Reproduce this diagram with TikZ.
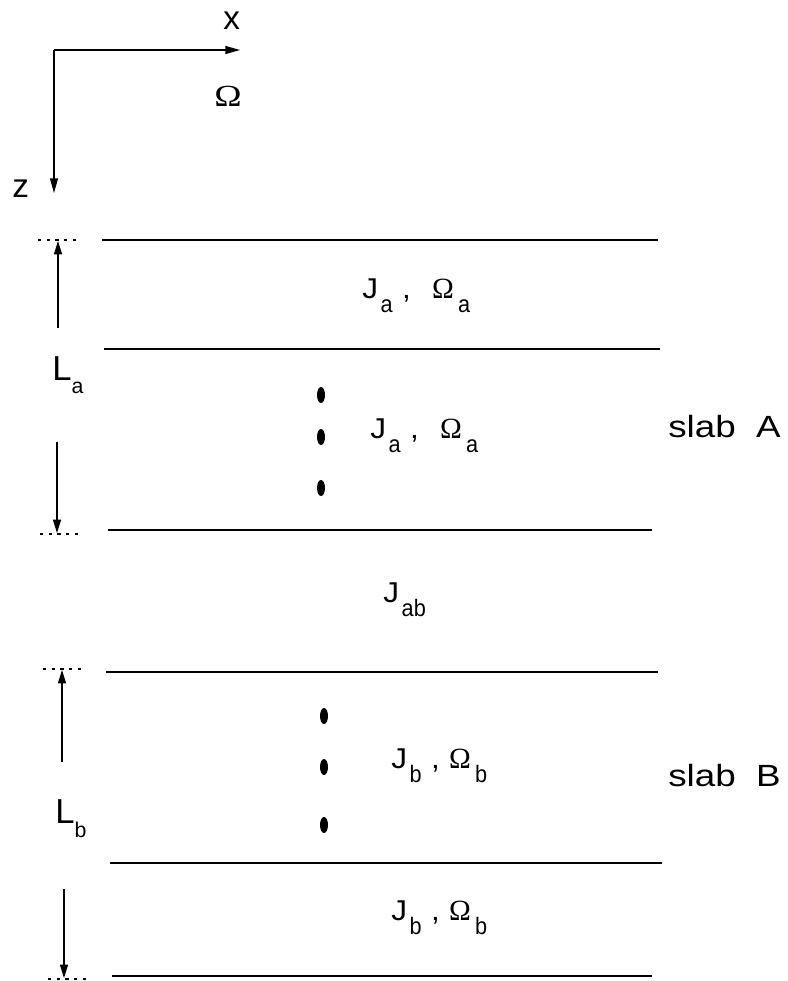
\documentclass[tikz,border=0pt]{standalone}
\usepackage{graphicx}
\usepackage{fontspec}
\setmainfont{Liberation Sans}
\newfontfamily\serifom{Liberation Serif}
\usetikzlibrary{arrows.meta,shapes.geometric}
\newcommand{\sx}[1]{\scalebox{1.1}[1]{#1}}
\newcommand{\lo}[1]{\raisebox{-10.5pt}{\fontsize{15.5}{15.5}\selectfont\scalebox{1.05}[1.15]{#1}}}
\newcommand{\omg}{{\fontsize{22}{22}\selectfont\serifom Ω}}
\begin{document}
\begin{tikzpicture}[x=0.75pt,y=-0.75pt,
  layer/.style={line width=1.4pt},
  axis/.style={line width=1pt,-{Triangle[length=11pt,width=6pt]}},
  dim/.style={line width=1pt,-{Triangle[length=10pt,width=6pt]}},
  stub/.style={line width=1.2pt,dash pattern=on 2.5pt off 4pt},
  dotn/.style={ellipse,fill=black,inner sep=0pt,minimum width=6pt,minimum height=12pt},
  txt/.style={anchor=base west,inner sep=0pt,font=\fontsize{21.5}{21.5}\selectfont},
  big/.style={anchor=base west,inner sep=0pt,font=\fontsize{23}{23}\selectfont}]
\useasboundingbox (0,0) rectangle (788,981);
% axes
\coordinate (O) at (54,50);
\coordinate (xe) at (240,50);
\coordinate (ze) at (54,193);
\draw[axis] (O) -- (xe);
\draw[axis] (O) -- (ze);
\node[anchor=base west,inner sep=0pt,font=\fontsize{25}{25}\selectfont] (xl) at (223,30) {x};
\node[anchor=base west,inner sep=0pt,font=\fontsize{25}{25}\selectfont] (zl) at (12,197) {z};
\node[anchor=base west,inner sep=0pt] (om) at (214,107) {\scalebox{1.2}[1]{\fontsize{23}{23}\selectfont\serifom Ω}};
% layer lines
\coordinate (l1a) at (102,240); \coordinate (l1b) at (658,240);
\coordinate (l2a) at (104,349); \coordinate (l2b) at (660,349);
\coordinate (l3a) at (108,530); \coordinate (l3b) at (652,530);
\coordinate (l4a) at (106,672); \coordinate (l4b) at (658,672);
\coordinate (l5a) at (110,863); \coordinate (l5b) at (662,863);
\coordinate (l6a) at (112,976); \coordinate (l6b) at (652,976);
\foreach \i in {1,...,6} {\draw[layer] (l\i a) -- (l\i b);}
% dotted stubs
\coordinate (s1a) at (38,240); \coordinate (s1b) at (78,240);
\coordinate (s2a) at (40,534); \coordinate (s2b) at (80,534);
\coordinate (s3a) at (43,669); \coordinate (s3b) at (83,669);
\coordinate (s4a) at (48,979); \coordinate (s4b) at (88,979);
\foreach \i in {1,...,4} {\draw[stub] (s\i a) -- (s\i b);}
% dimension arrows
\coordinate (a1t) at (58,328); \coordinate (a1h) at (58,241);
\coordinate (a2t) at (57,442); \coordinate (a2h) at (57,533);
\coordinate (b1t) at (62,762); \coordinate (b1h) at (62,670);
\coordinate (b2t) at (64,889); \coordinate (b2h) at (64,978);
\draw[dim] (a1t) -- (a1h);
\draw[dim] (a2t) -- (a2h);
\draw[dim] (b1t) -- (b1h);
\draw[dim] (b2t) -- (b2h);
\node[anchor=base west,inner sep=0pt,font=\fontsize{26}{26}\selectfont] (La) at (52,380) {L\raisebox{-10pt}{\fontsize{16}{16}\selectfont a}};
\node[anchor=base west,inner sep=0pt,font=\fontsize{26}{26}\selectfont] (Lb) at (55,823) {L\raisebox{-11pt}{\fontsize{16}{16}\selectfont b}};
% dots
\node[dotn] (da1) at (321,395) {};
\node[dotn] (da2) at (321,437) {};
\node[dotn] (da3) at (321,488) {};
\node[dotn] (db1) at (324,716) {};
\node[dotn] (db2) at (324,767) {};
\node[dotn] (db3) at (324,825) {};
% labels
\node[txt] (ja1) at (362,298) {\sx{J}\hspace{2pt}\lo{a}\hspace{7pt}\sx{,}\hspace{16pt}\omg\hspace{3pt}\lo{a}};
\node[txt] (ja2) at (370,438) {\sx{J}\hspace{2pt}\lo{a}\hspace{7pt}\sx{,}\hspace{16pt}\omg\hspace{3pt}\lo{a}};
\node[txt] (jab) at (383,602) {\sx{J}\hspace{2pt}\lo{ab}};
\node[txt] (jb1) at (391,768) {\sx{J}\hspace{2pt}\lo{b}\hspace{7pt}\sx{,}\hspace{7pt}\omg\hspace{3pt}\lo{b}};
\node[txt] (jb2) at (391,920) {\sx{J}\hspace{2pt}\lo{b}\hspace{7pt}\sx{,}\hspace{7pt}\omg\hspace{3pt}\lo{b}};
\node[big] (sa) at (668,437) {\scalebox{1.2}[1]{slab\ \ A}};
\node[big] (sb) at (668,786) {\scalebox{1.2}[1]{slab\ \ B}};
\end{tikzpicture}
\end{document}
